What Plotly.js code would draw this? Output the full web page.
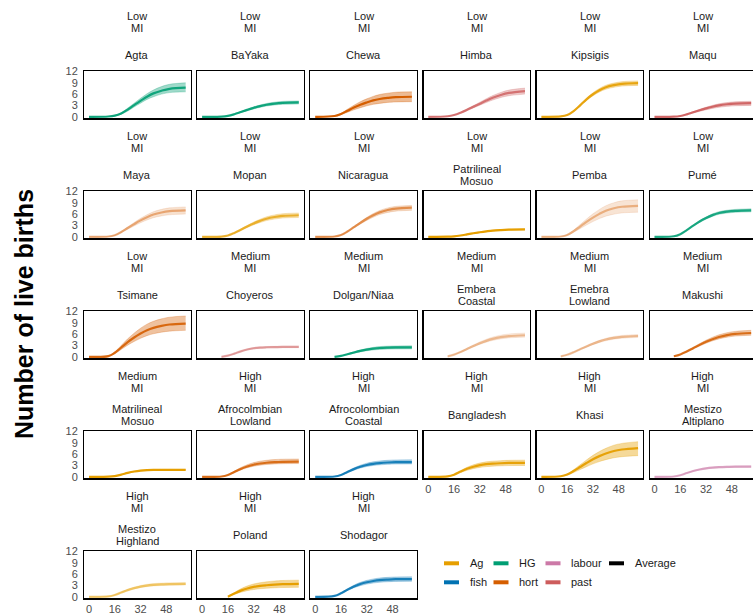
<!DOCTYPE html>
<html><head><meta charset="utf-8">
<script src="https://cdn.plot.ly/plotly-3.0.1.min.js"></script>
<style>html,body{margin:0;padding:0;overflow:hidden;background:#fff}</style>
</head><body><div id="chart" style="width:760px;height:614px"></div>
<script>
// ---------------- data ----------------
const ages = [0, 12, 16, 20, 24, 28, 32, 36, 40, 45, 50, 60];
const populations = ["Agta","BaYaka","Chewa","Himba","Kipsigis","Maqu",
  "Maya","Mopan","Nicaragua","Patrilineal\nMosuo","Pemba","Pumé",
  "Tsimane","Choyeros","Dolgan/Niaa","Embera\nCoastal","Emebra\nLowland","Makushi",
  "Matrilineal\nMosuo","Afrocolmbian\nLowland","Afrocolombian\nCoastal","Bangladesh","Khasi","Mestizo\nAltiplano",
  "Mestizo\nHighland","Poland","Shodagor"];
const miLevels = ["Low","Low","Low","Low","Low","Low",
  "Low","Low","Low","Low","Low","Low",
  "Low","Medium","Medium","Medium","Medium","Medium",
  "Medium","High","High","High","High","High",
  "High","High","High"];
const subsistence = ["HG","HG","hort","past","Ag","past",
  "hort","Ag","hort","Ag","hort","HG",
  "hort","past","HG","hort","hort","hort",
  "Ag","hort","fish","Ag","Ag","labour",
  "Ag","Ag","fish"];
const meanBirths = [
  [0,0.08,0.3,0.9,1.9,3.1,4.2,5.3,6.2,6.9,7.4,7.7],
  [0,0.04,0.23,0.68,1.25,1.82,2.36,2.81,3.19,3.5,3.69,3.8],
  [0,0.2,0.75,1.6,2.45,3.2,3.8,4.35,4.7,5.0,5.2,5.3],
  [0,0.14,0.48,1.09,1.84,2.65,3.47,4.28,5.03,5.78,6.32,6.8],
  [0,0.09,0.45,1.51,3.03,4.63,5.96,7.03,7.83,8.37,8.72,8.9],
  [0,0.04,0.22,0.65,1.19,1.73,2.23,2.66,3.02,3.31,3.49,3.6],
  [0,0.07,0.42,1.26,2.31,3.36,4.34,5.18,5.88,6.44,6.79,7.0],
  [0,0.06,0.34,1.03,1.88,2.74,3.53,4.22,4.79,5.24,5.53,5.7],
  [0,0.08,0.46,1.39,2.54,3.7,4.77,5.7,6.47,7.08,7.47,7.7],
  [0,0.02,0.12,0.35,0.64,0.94,1.21,1.44,1.64,1.79,1.89,1.95],
  [0,0.08,0.49,1.48,2.71,3.94,5.08,6.07,6.89,7.54,7.95,8.2],
  [0,0.14,0.7,1.75,2.94,4.06,4.97,5.74,6.3,6.65,6.86,7.0],
  [0,0.18,1.06,2.46,3.87,5.1,6.16,7.04,7.66,8.18,8.54,8.8],
  [null,0,0.31,0.83,1.43,1.92,2.26,2.44,2.52,2.57,2.6,2.6],
  [null,0,0.25,0.68,1.13,1.55,1.9,2.15,2.33,2.43,2.48,2.5],
  [null,0.11,0.57,1.25,2.05,2.85,3.59,4.22,4.73,5.19,5.47,5.7],
  [null,0.11,0.55,1.21,1.98,2.75,3.47,4.07,4.57,5.0,5.28,5.5],
  [null,0.13,0.63,1.39,2.27,3.15,3.97,4.66,5.23,5.73,6.05,6.3],
  [0,0.04,0.19,0.56,1.02,1.39,1.63,1.76,1.81,1.83,1.85,1.85],
  [0,0.08,0.48,1.28,2.08,2.72,3.2,3.52,3.72,3.88,3.96,4.0],
  [0,0.08,0.47,1.25,2.03,2.65,3.12,3.43,3.63,3.78,3.86,3.9],
  [0,0.11,0.56,1.37,2.11,2.66,3.07,3.33,3.48,3.59,3.66,3.7],
  [0,0.15,0.61,1.52,2.58,3.65,4.64,5.47,6.16,6.84,7.22,7.6],
  [0,0.08,0.41,1.0,1.54,1.94,2.24,2.43,2.54,2.62,2.67,2.7],
  [0,0.1,0.48,1.12,1.77,2.28,2.69,2.96,3.13,3.26,3.33,3.4],
  [null,null,0,0.85,1.63,2.21,2.62,2.89,3.06,3.23,3.33,3.4],
  [0,0.24,0.94,1.88,2.73,3.38,3.85,4.18,4.42,4.56,4.65,4.7]
];
const lowBirths = [
  [0,0.05,0.2,0.7,1.5,2.6,3.6,4.6,5.3,6.0,6.4,6.6],
  [0,0.03,0.2,0.6,1.1,1.6,2.1,2.5,2.85,3.12,3.3,3.4],
  [0,0.15,0.55,1.2,1.85,2.4,2.9,3.3,3.55,3.8,3.92,4.0],
  [0,0.12,0.42,0.96,1.62,2.34,3.06,3.78,4.44,5.1,5.58,6.0],
  [0,0.08,0.4,1.38,2.8,4.3,5.55,6.55,7.3,7.8,8.13,8.3],
  [0,0.03,0.18,0.54,0.99,1.44,1.86,2.22,2.52,2.76,2.91,3.0],
  [0,0.06,0.36,1.08,1.98,2.88,3.72,4.44,5.04,5.52,5.82,6.0],
  [0,0.05,0.31,0.92,1.68,2.45,3.16,3.77,4.28,4.69,4.95,5.1],
  [0,0.07,0.42,1.26,2.31,3.36,4.34,5.18,5.88,6.44,6.79,7.0],
  [0,0.02,0.11,0.33,0.6,0.88,1.13,1.35,1.53,1.68,1.77,1.83],
  [0,0.07,0.39,1.17,2.15,3.12,4.03,4.81,5.46,5.98,6.31,6.5],
  [0,0.13,0.66,1.65,2.77,3.83,4.69,5.41,5.94,6.27,6.47,6.6],
  [0,0.14,0.84,1.96,3.08,4.06,4.9,5.6,6.09,6.51,6.79,7.0],
  [null,0,0.29,0.77,1.32,1.78,2.09,2.26,2.33,2.38,2.4,2.4],
  [null,0,0.21,0.57,0.95,1.3,1.6,1.81,1.95,2.04,2.08,2.1],
  [null,0.1,0.52,1.14,1.87,2.6,3.28,3.85,4.32,4.73,4.99,5.2],
  [null,0.1,0.51,1.12,1.84,2.55,3.21,3.77,4.23,4.64,4.9,5.1],
  [null,0.11,0.57,1.25,2.05,2.85,3.59,4.22,4.73,5.19,5.47,5.7],
  [0,0.04,0.17,0.52,0.95,1.3,1.53,1.65,1.7,1.72,1.74,1.75],
  [0,0.07,0.42,1.12,1.82,2.38,2.8,3.08,3.26,3.4,3.47,3.5],
  [0,0.07,0.41,1.09,1.77,2.31,2.72,2.99,3.16,3.3,3.37,3.4],
  [0,0.09,0.45,1.11,1.71,2.16,2.49,2.7,2.82,2.91,2.97,3.0],
  [0,0.11,0.45,1.12,1.9,2.69,3.42,4.03,4.54,5.04,5.32,5.6],
  [0,0.08,0.38,0.93,1.43,1.8,2.08,2.25,2.35,2.43,2.48,2.5],
  [0,0.09,0.43,1.02,1.61,2.08,2.45,2.7,2.85,2.98,3.04,3.1],
  [null,null,0,0.63,1.2,1.63,1.93,2.13,2.25,2.38,2.45,2.5],
  [0,0.21,0.82,1.64,2.38,2.95,3.36,3.65,3.85,3.98,4.06,4.1]
];
const highBirths = [
  [0,0.12,0.4,1.1,2.3,3.6,4.9,6.1,7.1,8.0,8.6,9.0],
  [0,0.05,0.27,0.76,1.4,2.05,2.62,3.12,3.53,3.87,4.08,4.2],
  [0,0.26,0.92,2.0,3.05,4.0,4.75,5.4,5.9,6.25,6.5,6.6],
  [0,0.16,0.53,1.22,2.05,2.96,3.88,4.79,5.62,6.46,7.07,7.6],
  [0,0.1,0.5,1.62,3.23,4.94,6.37,7.5,8.36,8.93,9.3,9.5],
  [0,0.05,0.25,0.74,1.35,1.97,2.54,3.03,3.44,3.77,3.98,4.1],
  [0,0.08,0.47,1.42,2.61,3.79,4.9,5.85,6.64,7.27,7.66,7.9],
  [0,0.06,0.38,1.13,2.08,3.02,3.91,4.66,5.29,5.8,6.11,6.3],
  [0,0.08,0.5,1.49,2.74,3.98,5.15,6.14,6.97,7.64,8.05,8.3],
  [0,0.02,0.13,0.37,0.68,0.99,1.28,1.53,1.74,1.9,2.0,2.07],
  [0,0.1,0.59,1.76,3.23,4.7,6.08,7.25,8.23,9.02,9.51,9.8],
  [0,0.15,0.74,1.85,3.11,4.29,5.25,6.07,6.66,7.03,7.25,7.4],
  [0,0.22,1.3,3.02,4.75,6.26,7.56,8.64,9.4,10.04,10.48,10.8],
  [null,0,0.34,0.9,1.54,2.07,2.44,2.63,2.72,2.77,2.8,2.8],
  [null,0,0.29,0.78,1.31,1.8,2.2,2.49,2.7,2.81,2.87,2.9],
  [null,0.13,0.63,1.39,2.27,3.15,3.97,4.66,5.23,5.73,6.05,6.3],
  [null,0.12,0.59,1.3,2.12,2.95,3.72,4.37,4.9,5.37,5.66,5.9],
  [null,0.14,0.7,1.54,2.52,3.5,4.41,5.18,5.81,6.37,6.72,7.0],
  [0,0.04,0.2,0.59,1.08,1.47,1.72,1.86,1.92,1.94,1.96,1.96],
  [0,0.09,0.56,1.5,2.44,3.2,3.76,4.14,4.37,4.56,4.65,4.7],
  [0,0.09,0.54,1.44,2.34,3.06,3.6,3.96,4.19,4.37,4.46,4.5],
  [0,0.13,0.66,1.63,2.51,3.17,3.65,3.96,4.14,4.27,4.36,4.4],
  [0,0.19,0.74,1.86,3.16,4.46,5.67,6.7,7.53,8.37,8.84,9.3],
  [0,0.09,0.44,1.07,1.65,2.09,2.41,2.61,2.73,2.81,2.87,2.9],
  [0,0.11,0.53,1.25,1.98,2.55,3.0,3.31,3.5,3.65,3.72,3.8],
  [null,null,0,1.1,2.11,2.86,3.39,3.74,3.96,4.18,4.31,4.4],
  [0,0.27,1.06,2.12,3.07,3.82,4.35,4.72,4.98,5.14,5.25,5.3]
];
const xTicks = [0, 16, 32, 48];
const yTicks = [0, 3, 6, 9, 12];
const legendRow1 = ["Ag", "HG", "labour", "Average"];
const legendRow2 = ["fish", "hort", "past"];
const yTitle = "Number of live births";

// ---------------- styles ----------------
const palette = {Ag:"#E69F00", fish:"#0072B2", HG:"#009E73", hort:"#D55E00",
  labour:"#CC79A7", past:"#CD5C5C", Average:"#000000"};
const strength = [0.9,0.9,1,0.8,0.9,0.9, 0.45,0.75,0.6,1,0.4,0.85,
  0.9,0.5,0.9,0.35,0.35,0.85, 1,0.85,0.85,0.95,0.95,0.6, 0.5,1,0.85];
const W = 760, H = 614;
const colLeft = [84.2, 197.3, 310.4, 423.5, 536.6, 649.7], panelW = 106.3;
const rowTop = [70.7, 190.7, 310.7, 430.7, 550.7], panelH = 47.6;
const FONT = "Liberation Sans, Arial, sans-serif";

function rgba(hex, a) {
  const r = parseInt(hex.slice(1,3),16), g = parseInt(hex.slice(3,5),16), b = parseInt(hex.slice(5,7),16);
  return `rgba(${r},${g},${b},${a})`;
}
const px = v => v / W, py = v => 1 - v / H;

const traces = [], annotations = [], shapes = [];
const layout = {
  width: W, height: H, margin: {l:0, r:0, t:0, b:0},
  paper_bgcolor: "#fff", plot_bgcolor: "#fff", showlegend: false,
  font: {family: FONT, size: 11, color: "#4D4D4D"}
};

populations.forEach((name, i) => {
  const k = i + 1, row = Math.floor(i / 6), col = i % 6;
  const xa = "x" + (k === 1 ? "" : k), ya = "y" + (k === 1 ? "" : k);
  const xl = colLeft[col], yt = rowTop[row];
  const bottomRow = (row === 4) || (row === 3 && col >= 3);
  layout["xaxis" + (k === 1 ? "" : k)] = {
    domain: [px(xl), px(xl + panelW)], anchor: ya, range: [-3, 63],
    showgrid: false, zeroline: false, showline: true, mirror: true,
    linecolor: "#000", linewidth: 1.2, ticks: "", tickvals: xTicks,
    showticklabels: bottomRow, ticklabelstandoff: 0,
    tickfont: {size: 11, color: "#4D4D4D", family: FONT}, fixedrange: true
  };
  layout["yaxis" + (k === 1 ? "" : k)] = {
    domain: [py(yt + panelH), py(yt)], anchor: xa, range: [-0.4, 12.2],
    showgrid: false, zeroline: false, showline: true, mirror: true,
    linecolor: "#000", linewidth: 1.2, ticks: "", tickvals: yTicks,
    showticklabels: col === 0, ticklabelstandoff: 3,
    tickfont: {size: 11, color: "#4D4D4D", family: FONT}, fixedrange: true
  };
  const c = palette[subsistence[i]], a = strength[i];
  traces.push({x: ages, y: lowBirths[i], xaxis: xa, yaxis: ya, mode: "lines",
    line: {color: rgba(c, a * 0.35), width: 0.8, shape: "spline"}, hoverinfo: "skip"});
  traces.push({x: ages, y: highBirths[i], xaxis: xa, yaxis: ya, mode: "lines",
    fill: "tonexty", fillcolor: rgba(c, a * 0.42),
    line: {color: rgba(c, a * 0.35), width: 0.8, shape: "spline"}, hoverinfo: "skip"});
  traces.push({x: ages, y: meanBirths[i], xaxis: xa, yaxis: ya, mode: "lines",
    line: {color: rgba(c, a), width: 2.2, shape: "spline"}});

  const cx = px(xl + panelW / 2);
  const stripFont = {family: FONT, size: 11, color: "#1A1A1A"};
  annotations.push({xref: "paper", yref: "paper", x: cx, y: py(yt - 55), text: miLevels[i],
    showarrow: false, xanchor: "center", yanchor: "middle", font: stripFont});
  annotations.push({xref: "paper", yref: "paper", x: cx, y: py(yt - 42.5), text: "MI",
    showarrow: false, xanchor: "center", yanchor: "middle", font: stripFont});
  const parts = name.split("\n");
  const offs = parts.length === 1 ? [16] : [21.5, 9.5];
  parts.forEach((p, j) => annotations.push({xref: "paper", yref: "paper", x: cx, y: py(yt - offs[j]),
    text: p, showarrow: false, xanchor: "center", yanchor: "middle", font: stripFont}));
});

// y-axis title
annotations.push({xref: "paper", yref: "paper", x: px(24), y: py(314), text: yTitle, textangle: -90,
  showarrow: false, xanchor: "center", yanchor: "middle",
  font: {family: FONT, size: 25, color: "#000", weight: "bold"}});

// legend (manual, ggplot-style two rows)
const legX = [444, 493.5, 545.5, 609], legY = [563.3, 582.3];
[legendRow1, legendRow2].forEach((rowItems, r) => rowItems.forEach((g, j) => {
  shapes.push({type: "line", xref: "paper", yref: "paper",
    x0: px(legX[j]), x1: px(legX[j] + 15), y0: py(legY[r]), y1: py(legY[r]),
    line: {color: palette[g], width: 4}});
  annotations.push({xref: "paper", yref: "paper", x: px(legX[j] + 23.5), y: py(legY[r]), text: g,
    showarrow: false, xanchor: "left", yanchor: "middle",
    font: {family: FONT, size: 11, color: "#1A1A1A"}});
}));

layout.annotations = annotations;
layout.shapes = shapes;
Plotly.newPlot("chart", traces, layout, {staticPlot: true, displayModeBar: false});
</script>
</body></html>
